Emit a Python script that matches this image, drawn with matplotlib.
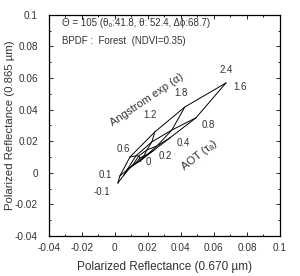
import numpy as np
import matplotlib
matplotlib.use("Agg")
import matplotlib.pyplot as plt
from matplotlib.ticker import MultipleLocator, FuncFormatter

plt.rcParams['font.family'] = ['Liberation Sans', 'DejaVu Sans']

# LUT: polarized reflectance (0.670, 0.865) for each Angstrom exponent and AOT
alphas = [-0.1, 0.1, 0.6, 1.2, 1.8, 2.4]
aots = [0, 0.2, 0.4, 0.8, 1.6]

# rows = alpha, cols = AOT
r670 = np.array([
    [0.0152, 0.0115, 0.0091, 0.0055, 0.0018],
    [0.0152, 0.0127, 0.0109, 0.0073, 0.0030],
    [0.0152, 0.0152, 0.0145, 0.0127, 0.0091],
    [0.0152, 0.0176, 0.0194, 0.0224, 0.0242],
    [0.0152, 0.0200, 0.0255, 0.0345, 0.0424],
    [0.0152, 0.0230, 0.0333, 0.0491, 0.0673],
])
r865 = np.array([
    [0.0075, 0.0050, 0.0031, -0.0014, -0.0064],
    [0.0075, 0.0062, 0.0050, 0.0018, -0.0020],
    [0.0075, 0.0094, 0.0107, 0.0107, 0.0100],
    [0.0075, 0.0107, 0.0145, 0.0196, 0.0259],
    [0.0075, 0.0119, 0.0170, 0.0271, 0.0417],
    [0.0075, 0.0138, 0.0221, 0.0348, 0.0569],
])

# label positions (data coords)
alpha_lbl_x = [-0.0079, -0.0061, 0.0049, 0.0212, 0.0400, 0.0673]
alpha_lbl_y = [-0.0121, -0.0014, 0.0151, 0.0367, 0.0506, 0.0652]
alpha_lbl = ["-0.1", "0.1", "0.6", "1.2", "1.8", "2.4"]
aot_lbl_x = [0.0200, 0.0303, 0.0412, 0.0564, 0.0758]
aot_lbl_y = [0.0069, 0.0107, 0.0189, 0.0303, 0.0544]
aot_lbl = ["0", "0.2", "0.4", "0.8", "1.6"]

txt = "#333333"

fig = plt.figure(figsize=(3.0, 2.76), dpi=100)
ax = fig.add_axes([0.163, 0.145, 0.77, 0.801])

for i in range(len(alphas)):
    ax.plot(r670[i], r865[i], color="black", lw=0.7)
for j in range(len(aots)):
    ax.plot(r670[:, j], r865[:, j], color="black", lw=0.7)

for x, y, s in zip(alpha_lbl_x, alpha_lbl_y, alpha_lbl):
    ax.text(x, y, s, fontsize=7, color=txt, ha="center", va="center")
for x, y, s in zip(aot_lbl_x, aot_lbl_y, aot_lbl):
    ax.text(x, y, s, fontsize=7, color=txt, ha="center", va="center")

ax.text(0.0195, 0.0462, "Angstrom exp (\u03b1)", fontsize=8, color=txt,
        rotation=34, ha="center", va="center")
ax.text(0.0509, 0.0113, "AOT (\u03c4\u2090)", fontsize=8, color=txt,
        rotation=38, ha="center", va="center")

ax.text(0.055, 0.962, "\u0398 = 105 (\u03b8\u2080:41.8, \u03b8: 52.4, \u0394\u03d5:68.7)",
        transform=ax.transAxes, fontsize=7, color=txt, va="center")
ax.text(0.055, 0.882, "BPDF :  Forest  (NDVI=0.35)",
        transform=ax.transAxes, fontsize=7, color=txt, va="center")

ax.set_xlim(-0.04, 0.1)
ax.set_ylim(-0.04, 0.1)
ax.xaxis.set_major_locator(MultipleLocator(0.02))
ax.yaxis.set_major_locator(MultipleLocator(0.02))
ax.xaxis.set_minor_locator(MultipleLocator(0.01))
ax.yaxis.set_minor_locator(MultipleLocator(0.01))
fmt = FuncFormatter(lambda v, p: ("%g" % round(v, 4)).replace("\u2212", "-"))
ax.xaxis.set_major_formatter(fmt)
ax.yaxis.set_major_formatter(fmt)
ax.tick_params(which="both", direction="in", top=True, right=True,
               labelsize=7.2, labelcolor=txt, width=0.6)
ax.tick_params(which="major", length=3)
ax.tick_params(which="minor", length=1.5)
ax.tick_params(axis="x", which="major", pad=5)
ax.tick_params(axis="y", which="major", pad=8)
for s in ax.spines.values():
    s.set_linewidth(0.9)

ax.set_xlabel("Polarized Reflectance (0.670 \u00b5m)", fontsize=8.5, color=txt, labelpad=6)
ax.set_ylabel("Polarized Reflectance (0.865 \u00b5m)", fontsize=8.2, color=txt)
ax.yaxis.set_label_coords(-0.145, 0.5)

fig.savefig("out.png", dpi=100)
